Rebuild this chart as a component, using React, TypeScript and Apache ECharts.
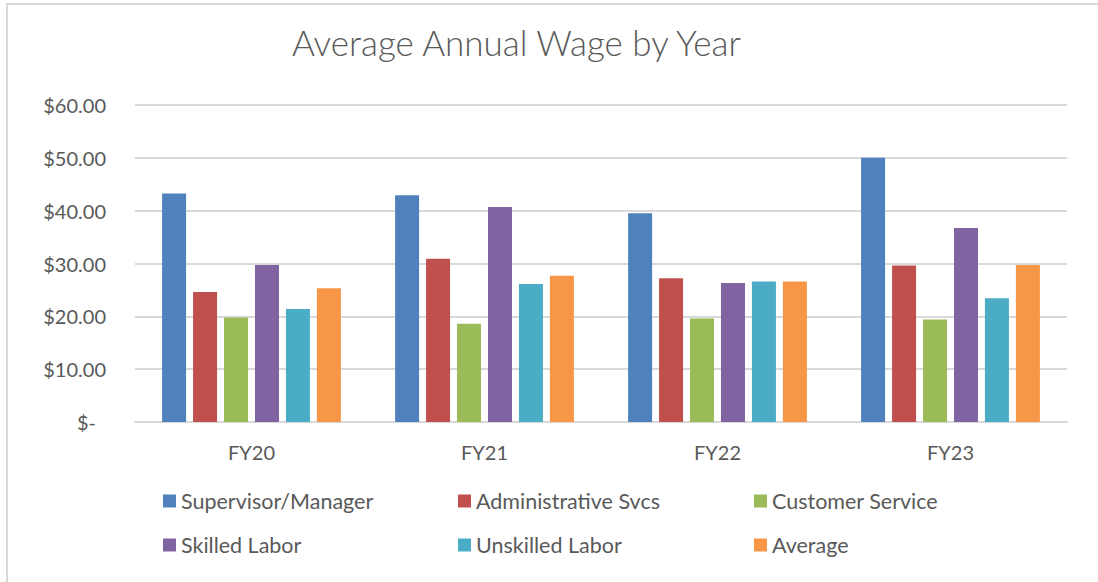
import React, { useEffect, useRef } from "react";
import * as echarts from "echarts";

const categories = ["FY20", "FY21", "FY22", "FY23"];
const seriesNames = [
  "Supervisor/Manager",
  "Administrative Svcs",
  "Customer Service",
  "Skilled Labor",
  "Unskilled Labor",
  "Average",
];
const supervisor = [43.25, 42.9, 39.5, 50.0];
const administrative = [24.6, 30.9, 27.2, 29.6];
const customerService = [19.8, 18.6, 19.6, 19.4];
const skilledLabor = [29.7, 40.7, 26.3, 36.7];
const unskilledLabor = [21.4, 26.1, 26.6, 23.4];
const average = [25.3, 27.7, 26.6, 29.7];
const colors = ["#4F81BD", "#C0504D", "#9BBB59", "#8064A2", "#4BACC6", "#F79646"];
const yTicks = [0, 10, 20, 30, 40, 50, 60];

const FONT = "Lato, 'Open Sans', sans-serif";
const TEXT = "#595959";

export default function App() {
  const ref = useRef<HTMLDivElement>(null);
  useEffect(() => {
    document.body.style.margin = "0";
    if (!ref.current) return;
    const chart = echarts.init(ref.current, undefined, { renderer: "svg" });
    const data = [supervisor, administrative, customerService, skilledLabor, unskilledLabor, average];
    const legendPos = [
      [163, 490],
      [458, 490],
      [754, 490],
      [163, 534],
      [458, 534],
      [754, 534],
    ];
    chart.setOption({
      animation: false,
      backgroundColor: "#ffffff",
      title: {
        text: "Average Annual Wage by Year",
        left: 292,
        top: 24,
        padding: 0,
        textStyle: { fontFamily: FONT, fontSize: 35, fontWeight: 300, color: TEXT },
      },
      graphic: [
        {
          type: "rect",
          shape: { x: 7, y: 4, width: 1200, height: 700 },
          style: { fill: "none", stroke: "#d9d9d9", lineWidth: 2 },
          silent: true,
        },
      ],
      legend: seriesNames.map((n, i) => ({
        data: [n],
        left: legendPos[i][0],
        top: legendPos[i][1],
        padding: 0,
        itemWidth: 13,
        itemHeight: 13,
        itemGap: 0,
        icon: "rect",
        textStyle: { fontFamily: FONT, fontSize: 21.5, color: TEXT },
      })),
      grid: { left: 135, right: 31, top: 105, bottom: 160, containLabel: false },
      xAxis: {
        type: "category",
        data: categories,
        axisLine: { lineStyle: { color: "#d9d9d9", width: 2 } },
        axisTick: { show: false },
        axisLabel: { fontFamily: FONT, fontSize: 20, color: TEXT, margin: 20 },
      },
      yAxis: {
        type: "value",
        min: yTicks[0],
        max: yTicks[yTicks.length - 1],
        interval: 10,
        axisLine: { show: false },
        axisTick: { show: false },
        splitLine: { lineStyle: { color: "#d9d9d9", width: 2 } },
        axisLabel: {
          fontFamily: FONT,
          fontSize: 20,
          color: TEXT,
          margin: 29,
          formatter: (v: number) => (v === 0 ? "{z|$-}" : "$" + v.toFixed(2)),
          rich: { z: { fontFamily: FONT, fontSize: 20, color: TEXT, padding: [0, 10, 0, 0] } },
        },
      },
      series: seriesNames.map((n, i) => ({
        name: n,
        type: "bar",
        data: data[i],
        barWidth: 24,
        barGap: "29%",
        itemStyle: { color: colors[i] },
      })),
    });
    return () => chart.dispose();
  }, []);
  return <div ref={ref} style={{ width: 1098, height: 582 }} />;
}
